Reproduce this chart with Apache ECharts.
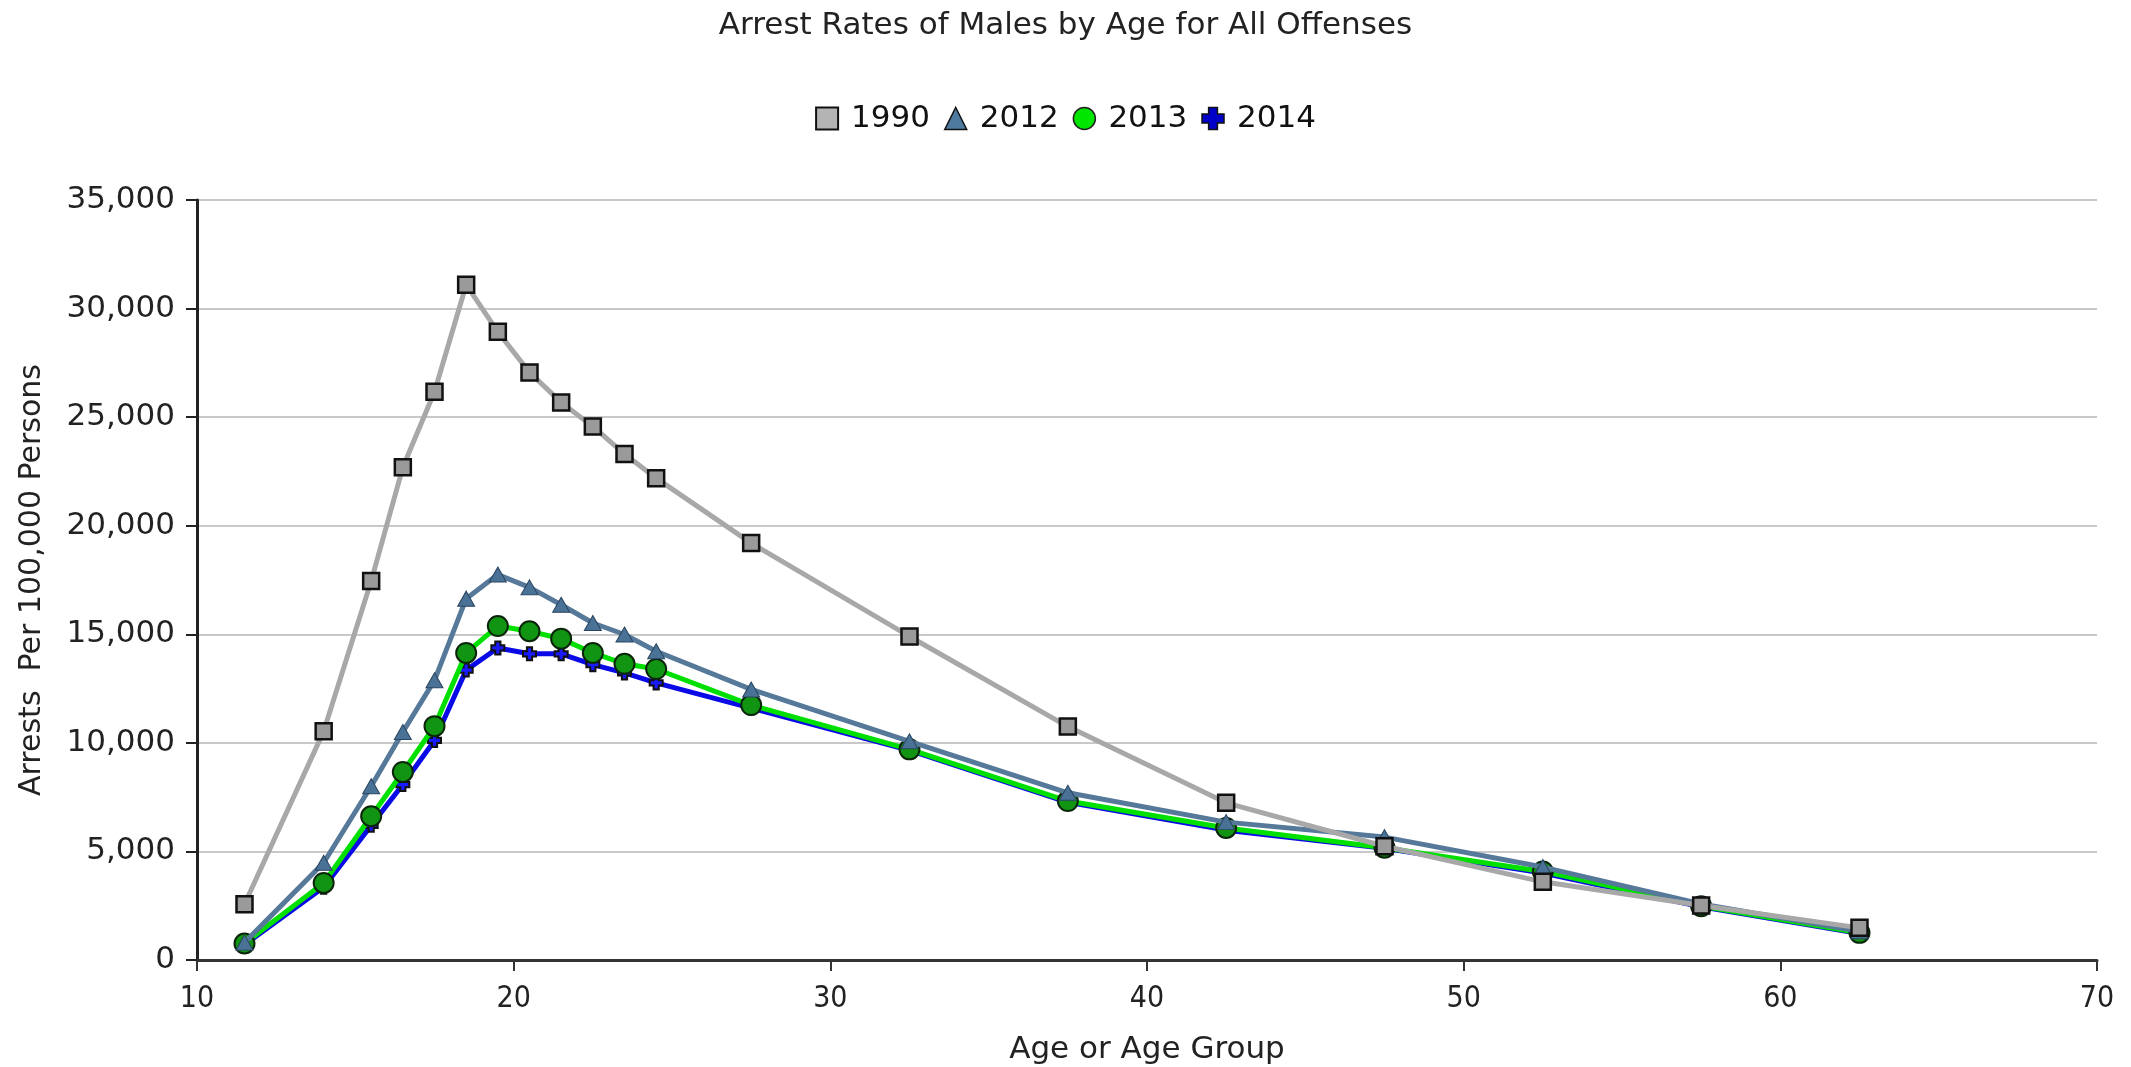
<!DOCTYPE html>
<html>
<head>
<meta charset="utf-8">
<script src="https://cdn.jsdelivr.net/npm/echarts@6/dist/echarts.min.js"></script>
<style>
  html, body { margin: 0; padding: 0; background: #fff; }
  #chart { width: 2131px; height: 1067px; }
</style>
</head>
<body>
<div id="chart"></div>
<script>
// age group midpoints
var ages = [11.5, 14, 15.5, 16.5, 17.5, 18.5, 19.5, 20.5, 21.5, 22.5, 23.5, 24.5, 27.5, 32.5, 37.5, 42.5, 47.5, 52.5, 57.5, 62.5];

var rate1990 = [2570, 10530, 17450, 22690, 26170, 31100, 28930, 27060, 25680, 24570, 23300, 22190, 19200, 14900, 10750, 7240, 5240, 3600, 2510, 1480];
var rate2012 = [800, 4480, 8000, 10500, 12880, 16640, 17750, 17160, 16360, 15520, 14990, 14220, 12460, 10070, 7700, 6350, 5660, 4280, 2580, 1320];
var rate2013 = [760, 3550, 6620, 8660, 10770, 14140, 15380, 15140, 14800, 14140, 13640, 13400, 11740, 9700, 7320, 6080, 5170, 4080, 2480, 1250];
var rate2014 = [700, 3350, 6200, 8080, 10110, 13350, 14370, 14100, 14100, 13600, 13220, 12760, 11600, 9650, 7260, 5980, 5140, 4000, 2450, 1220];

var seriesNames = ['1990', '2012', '2013', '2014'];

var plusPath = 'path://M3,0 H7 V3 H10 V7 H7 V10 H3 V7 H0 V3 H3 Z';

function pairs(xs, ys) {
	var out = [];
	for (var i = 0; i < xs.length; i++) {
		out.push([xs[i], ys[i]]);
	}
	return out;
}

function fmt(v) {
	return String(v).replace(/\B(?=(\d{3})+(?!\d))/g, ',');
}

var chart = echarts.init(document.getElementById('chart'), null, { renderer: 'canvas' });

var option = {
	animation : false,
	backgroundColor : '#ffffff',
	title : {
		text : 'Arrest Rates of Males by Age for All Offenses',
		left : 'center',
		top : 5,
		textStyle : {
			fontFamily : '"DejaVu Sans"',
			fontSize : 31,
			fontWeight : 'normal',
			color : '#222'
		}
	},
	legend : {
		top : 98,
		left : 'center',
		itemWidth : 22,
		itemHeight : 22,
		itemGap : 14,
		textStyle : {
			fontFamily : '"DejaVu Sans"',
			fontSize : 31,
			color : '#111',
			padding : [0, 0, 0, 8]
		},
		data : [
			{ name : '1990', icon : 'rect', itemStyle : { color : '#b4b4b4', borderColor : '#111', borderWidth : 2 } },
			{ name : '2012', icon : 'triangle', itemStyle : { color : '#4f7aa0', borderColor : '#111', borderWidth : 1.5 } },
			{ name : '2013', icon : 'circle', itemStyle : { color : '#00e600', borderColor : '#222', borderWidth : 1.5 } },
			{ name : '2014', icon : plusPath, itemStyle : { color : '#0000c8', borderColor : '#111', borderWidth : 1.5 } }
		]
	},
	grid : {
		left : 197,
		right : 34,
		top : 200,
		bottom : 107,
		containLabel : false,
		outerBoundsMode : 'none'
	},
	xAxis : {
		type : 'value',
		min : 10,
		max : 70,
		interval : 10,
		name : 'Age or Age Group',
		nameLocation : 'middle',
		nameGap : 74,
		nameTextStyle : {
			fontFamily : '"DejaVu Sans"',
			fontSize : 31,
			color : '#222'
		},
		axisLine : { lineStyle : { color : '#333', width : 3 } },
		axisTick : { show : true, length : 11, inside : false, lineStyle : { color : '#333', width : 2 } },
		axisLabel : {
			margin : 24,
			fontFamily : '"DejaVu Sans Condensed", "DejaVu Sans"',
			fontSize : 30,
			color : '#222'
		},
		splitLine : { show : false }
	},
	yAxis : {
		type : 'value',
		min : 0,
		max : 35000,
		interval : 5000,
		name : 'Arrests  Per 100,000 Persons',
		nameLocation : 'middle',
		nameGap : 150,
		nameTextStyle : {
			fontFamily : '"DejaVu Sans"',
			fontSize : 30,
			color : '#222'
		},
		axisLine : { show : true, lineStyle : { color : '#222', width : 3 } },
		axisTick : { show : true, length : 11, inside : false, lineStyle : { color : '#222', width : 2 } },
		axisLabel : {
			margin : 22,
			fontFamily : '"DejaVu Sans"',
			fontSize : 31,
			color : '#222',
			formatter : function (v) { return fmt(v); }
		},
		splitLine : { show : true, lineStyle : { color : '#c8c8c8', width : 2 } }
	},
	series : [ {
		name : seriesNames[0],
		type : 'line',
		z : 5,
		data : pairs(ages, rate1990),
		symbol : 'rect',
		symbolSize : 16,
		lineStyle : { color : '#a8a8a8', width : 5 },
		itemStyle : { color : '#9a9a9a', borderColor : '#111', borderWidth : 2.5 }
	}, {
		name : seriesNames[1],
		type : 'line',
		z : 4,
		data : pairs(ages, rate2012),
		symbol : 'triangle',
		symbolSize : [17, 15],
		lineStyle : { color : '#56799a', width : 5 },
		itemStyle : { color : '#4a7196', borderColor : '#2a4660', borderWidth : 1 }
	}, {
		name : seriesNames[2],
		type : 'line',
		z : 3,
		data : pairs(ages, rate2013),
		symbol : 'circle',
		symbolSize : 20,
		lineStyle : { color : '#00e000', width : 5 },
		itemStyle : { color : '#119411', borderColor : '#0b250b', borderWidth : 2 }
	}, {
		name : seriesNames[3],
		type : 'line',
		z : 2,
		data : pairs(ages, rate2014),
		symbol : plusPath,
		symbolSize : 13,
		lineStyle : { color : '#0a0ae6', width : 5 },
		itemStyle : { color : '#1a1aff', borderColor : '#111', borderWidth : 2 }
	} ]
};

chart.setOption(option);
</script>
</body>
</html>
